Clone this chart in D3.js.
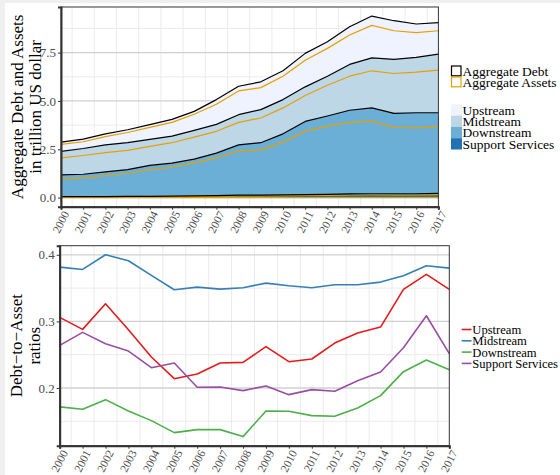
<!DOCTYPE html>
<html><head><meta charset="utf-8">
<script src="https://cdn.jsdelivr.net/npm/d3@7"></script>
<style>
html,body{margin:0;padding:0;background:#efefef;}
svg{display:block;}
text{font-family:"Liberation Serif",serif;}
</style></head>
<body>
<svg id="c" width="560" height="475"></svg>
<script>
// ---------- data ----------
const years = [2000,2001,2002,2003,2004,2005,2006,2007,2008,2009,2010,2011,2012,2013,2014,2015,2016,2017];
// trillion US dollar, per sector (stacked: assets then debt for each sector)
const ssAssets   = [0.03,0.03,0.035,0.04,0.045,0.05,0.06,0.07,0.09,0.09,0.10,0.11,0.12,0.14,0.15,0.14,0.14,0.15];
const ssDebt     = [0.02,0.02,0.02,0.02,0.02,0.03,0.03,0.03,0.04,0.04,0.04,0.05,0.05,0.05,0.05,0.06,0.06,0.07];
const downAssets = [0.92,0.97,1.09,1.20,1.38,1.49,1.71,1.96,2.29,2.34,2.73,3.28,3.53,3.70,3.76,3.43,3.42,3.43];
const downDebt   = [0.21,0.19,0.19,0.19,0.22,0.21,0.19,0.24,0.31,0.37,0.43,0.50,0.52,0.63,0.68,0.73,0.77,0.74];
const midAssets  = [0.88,0.97,0.99,0.99,0.99,1.06,1.14,1.13,1.16,1.28,1.34,1.34,1.59,1.76,1.92,2.06,2.10,2.20];
const midDebt    = [0.33,0.36,0.40,0.40,0.36,0.34,0.35,0.36,0.40,0.43,0.43,0.45,0.47,0.61,0.67,0.73,0.76,0.83];
const upAssets   = [0.36,0.35,0.43,0.53,0.62,0.71,0.83,1.04,1.23,1.14,1.21,1.38,1.44,1.52,1.68,1.48,1.28,1.21];
const upDebt     = [0.12,0.14,0.14,0.14,0.14,0.16,0.15,0.24,0.24,0.30,0.28,0.35,0.34,0.43,0.48,0.52,0.45,0.42];
// debt-to-asset ratios
const upRatio   = [0.306,0.288,0.3265,0.2875,0.2465,0.214,0.221,0.2375,0.2385,0.262,0.2395,0.2435,0.2675,0.2825,0.2915,0.348,0.3705,0.348];
const midRatio  = [0.3815,0.378,0.400,0.391,0.369,0.3475,0.3515,0.3485,0.3505,0.3575,0.3535,0.3505,0.355,0.355,0.359,0.3685,0.3835,0.380];
const downRatio = [0.1716,0.168,0.1825,0.1655,0.151,0.133,0.1375,0.1375,0.127,0.1655,0.165,0.1585,0.1575,0.170,0.1885,0.2245,0.242,0.2275];
const ssRatio   = [0.264,0.2835,0.2665,0.2555,0.2305,0.2375,0.201,0.2015,0.196,0.203,0.19,0.1975,0.195,0.211,0.224,0.2605,0.3085,0.2515];

const sectors = ["Upstream","Midstream","Downstream","Support Services"];
const sectorFill = ["#eff3ff","#bdd7e7","#6baed6","#2171b5"];
const lineColors = ["#e41a1c","#377eb8","#4daf4a","#984ea3"];
const typeLabels = ["Aggregate Debt","Aggregate Assets"];
const typeColors = ["#000000","#e69f00"];
const topTicks = [0,2.5,5,7.5];
const topMinor = [1.25,3.75,6.25,8.75];
const botTicks = [0.2,0.3,0.4];
const botMinor = [0.15,0.25,0.35];

// ---------- layout ----------
const svg = d3.select("#c");
svg.append("rect").attr("x",5).attr("y",3).attr("width",555).attr("height",472).attr("fill","#fff");

const T = {l:61, r:438.4, t:7, b:206.7};
const B = {l:59.7, r:449.3, t:245.7, b:445.7};
const tickCol = "#4d4d4d";

// ---------- top panel ----------
const layers = [
  {key:"ssA", vals:ssAssets,   sector:3, type:1},
  {key:"ssD", vals:ssDebt,     sector:3, type:0},
  {key:"dA",  vals:downAssets, sector:2, type:1},
  {key:"dD",  vals:downDebt,   sector:2, type:0},
  {key:"mA",  vals:midAssets,  sector:1, type:1},
  {key:"mD",  vals:midDebt,    sector:1, type:0},
  {key:"uA",  vals:upAssets,   sector:0, type:1},
  {key:"uD",  vals:upDebt,     sector:0, type:0}
];
const table = years.map((y,i)=>{const o={year:y}; layers.forEach(L=>o[L.key]=L.vals[i]); return o;});
const stacked = d3.stack().keys(layers.map(L=>L.key))(table);
const yMax = d3.max(stacked[stacked.length-1], d=>d[1]);
const pad = yMax*0.05;

const xT = d3.scaleLinear().domain([2000,2017]).range([T.l,T.r]);
const yT = d3.scaleLinear().domain([-pad,yMax+pad]).range([T.b,T.t]);

const gT = svg.append("g");
gT.append("rect").attr("x",T.l).attr("y",T.t).attr("width",T.r-T.l).attr("height",T.b-T.t).attr("fill","#fff");
gT.selectAll(".mnx").data(years.slice(0,-1)).join("line")
  .attr("x1",d=>xT(d+0.5)).attr("x2",d=>xT(d+0.5)).attr("y1",T.t).attr("y2",T.b)
  .attr("stroke","#ebebeb").attr("stroke-width",1);
gT.selectAll(".mny").data(topMinor).join("line")
  .attr("x1",T.l).attr("x2",T.r).attr("y1",d=>yT(d)).attr("y2",d=>yT(d))
  .attr("stroke","#ebebeb").attr("stroke-width",1);
gT.selectAll(".mjy").data(topTicks).join("line")
  .attr("x1",T.l).attr("x2",T.r).attr("y1",d=>yT(d)).attr("y2",d=>yT(d))
  .attr("stroke","#d0d0d0").attr("stroke-width",1.3);

const area = d3.area().x(d=>xT(d.data.year)).y0(d=>yT(d[0])).y1(d=>yT(d[1]));
const upper = d3.line().x(d=>xT(d.data.year)).y(d=>yT(d[1]));
const lower = d3.line().x(d=>xT(d.data.year)).y(d=>yT(d[0]));
stacked.forEach((s,i)=>{
  gT.append("path").attr("d",area(s)).attr("fill",sectorFill[layers[i].sector]);
});
gT.append("path").attr("d",lower(stacked[0])).attr("fill","none")
  .attr("stroke",typeColors[1]).attr("stroke-width",1.2);
stacked.forEach((s,i)=>{
  gT.append("path").attr("d",upper(s)).attr("fill","none")
    .attr("stroke",typeColors[layers[i].type]).attr("stroke-width",1.2)
    .attr("stroke-linejoin","round");
});
gT.append("rect").attr("x",T.l).attr("y",T.t).attr("width",T.r-T.l).attr("height",T.b-T.t)
  .attr("fill","none").attr("stroke","#333").attr("stroke-width",1);
const axTx = gT.append("g").attr("transform",`translate(0,${T.b})`)
  .call(d3.axisBottom(xT).tickValues(years).tickFormat(d3.format("d")).tickSize(3).tickPadding(2));
const axTy = gT.append("g").attr("transform",`translate(${T.l},0)`)
  .call(d3.axisLeft(yT).tickValues(topTicks).tickFormat(d3.format(".1f")).tickSize(3).tickPadding(2));

// ---------- bottom panel ----------
const allR = upRatio.concat(midRatio,downRatio,ssRatio);
const rMin = d3.min(allR), rMax = d3.max(allR), rPad = (rMax-rMin)*0.05;
const xB = d3.scaleLinear().domain([2000,2017]).range([B.l,B.r]);
const yB = d3.scaleLinear().domain([rMin-rPad,rMax+rPad]).range([B.b,B.t]);
const gB = svg.append("g");
gB.append("rect").attr("x",B.l).attr("y",B.t).attr("width",B.r-B.l).attr("height",B.b-B.t).attr("fill","#fff");
gB.selectAll(".mnx").data(years.slice(0,-1)).join("line")
  .attr("x1",d=>xB(d+0.5)).attr("x2",d=>xB(d+0.5)).attr("y1",B.t).attr("y2",B.b)
  .attr("stroke","#ebebeb").attr("stroke-width",1);
gB.selectAll(".mny").data(botMinor).join("line")
  .attr("x1",B.l).attr("x2",B.r).attr("y1",d=>yB(d)).attr("y2",d=>yB(d))
  .attr("stroke","#ebebeb").attr("stroke-width",1);
gB.selectAll(".mjy").data(botTicks).join("line")
  .attr("x1",B.l).attr("x2",B.r).attr("y1",d=>yB(d)).attr("y2",d=>yB(d))
  .attr("stroke","#d0d0d0").attr("stroke-width",1.3);
const ratios = [upRatio,midRatio,downRatio,ssRatio];
const rl = d3.line().x((d,i)=>xB(years[i])).y(d=>yB(d));
ratios.forEach((r,k)=>{
  gB.append("path").attr("d",rl(r)).attr("fill","none").attr("stroke",lineColors[k])
    .attr("stroke-width",1.6).attr("stroke-linejoin","round");
});
gB.append("rect").attr("x",B.l).attr("y",B.t).attr("width",B.r-B.l).attr("height",B.b-B.t)
  .attr("fill","none").attr("stroke","#333").attr("stroke-width",1);
const axBx = gB.append("g").attr("transform",`translate(0,${B.b})`)
  .call(d3.axisBottom(xB).tickValues(years).tickFormat(d3.format("d")).tickSize(3).tickPadding(2));
const axBy = gB.append("g").attr("transform",`translate(${B.l},0)`)
  .call(d3.axisLeft(yB).tickValues(botTicks).tickFormat(d3.format(".1f")).tickSize(3).tickPadding(2));

[axTx,axTy,axBx,axBy].forEach(a=>{
  a.select(".domain").attr("stroke","#333").attr("stroke-width",2);
  a.selectAll(".tick line").attr("stroke","#333").attr("stroke-width",1);
  a.selectAll("text").attr("fill",tickCol).style("font-family","'Liberation Serif',serif");
});
[axTy,axBy].forEach(a=>a.selectAll("text").attr("font-size",13));
[axTx,axBx].forEach(a=>{
  a.selectAll("text").attr("font-size",11.5)
    .attr("text-anchor","end").attr("dy","0.35em")
    .attr("transform","translate(4.5,5) rotate(-63)").attr("y",0).attr("x",0);
});

function vtitle(lines,cy,x0,dx){
  lines.forEach((t,i)=>{
    svg.append("text").attr("transform",`translate(${x0+i*dx},${cy}) rotate(-90)`)
      .attr("text-anchor","middle").attr("dy","0.35em").attr("font-size",17).attr("fill","#000").text(t);
  });
}
vtitle(["Aggregate Debt and Assets","in trillion US dollar"],(T.t+T.b)/2,17,18.5);
vtitle(["Debt\u2212to\u2212Asset","ratios"],(B.t+B.b)/2,16,18.5);

// ---------- legends ----------
const lg = svg.append("g");
typeLabels.forEach((t,i)=>{
  const y0 = 65.5 + i*11;
  lg.append("rect").attr("x",451.5).attr("y",y0+0.5).attr("width",9.5).attr("height",9.8)
    .attr("fill","#fff").attr("stroke",typeColors[i]).attr("stroke-width",1.2);
  lg.append("text").attr("x",462.5).attr("y",y0+5.5).attr("dy","0.35em").attr("font-size",13.5).text(t);
});
sectors.forEach((t,i)=>{
  const y0 = 104.3 + i*11.3;
  lg.append("rect").attr("x",451).attr("y",y0).attr("width",11).attr("height",11.3).attr("fill",sectorFill[i]);
  lg.append("text").attr("x",462.5).attr("y",y0+5.6).attr("dy","0.35em").attr("font-size",13.5).text(t);
});
sectors.forEach((t,i)=>{
  const yc = 329.5 + i*11.3;
  lg.append("line").attr("x1",461.7).attr("x2",471.5).attr("y1",yc).attr("y2",yc)
    .attr("stroke",lineColors[i]).attr("stroke-width",1.6);
  lg.append("text").attr("x",472.3).attr("y",yc).attr("dy","0.35em").attr("font-size",12.6).text(t);
});
</script>
</body></html>
